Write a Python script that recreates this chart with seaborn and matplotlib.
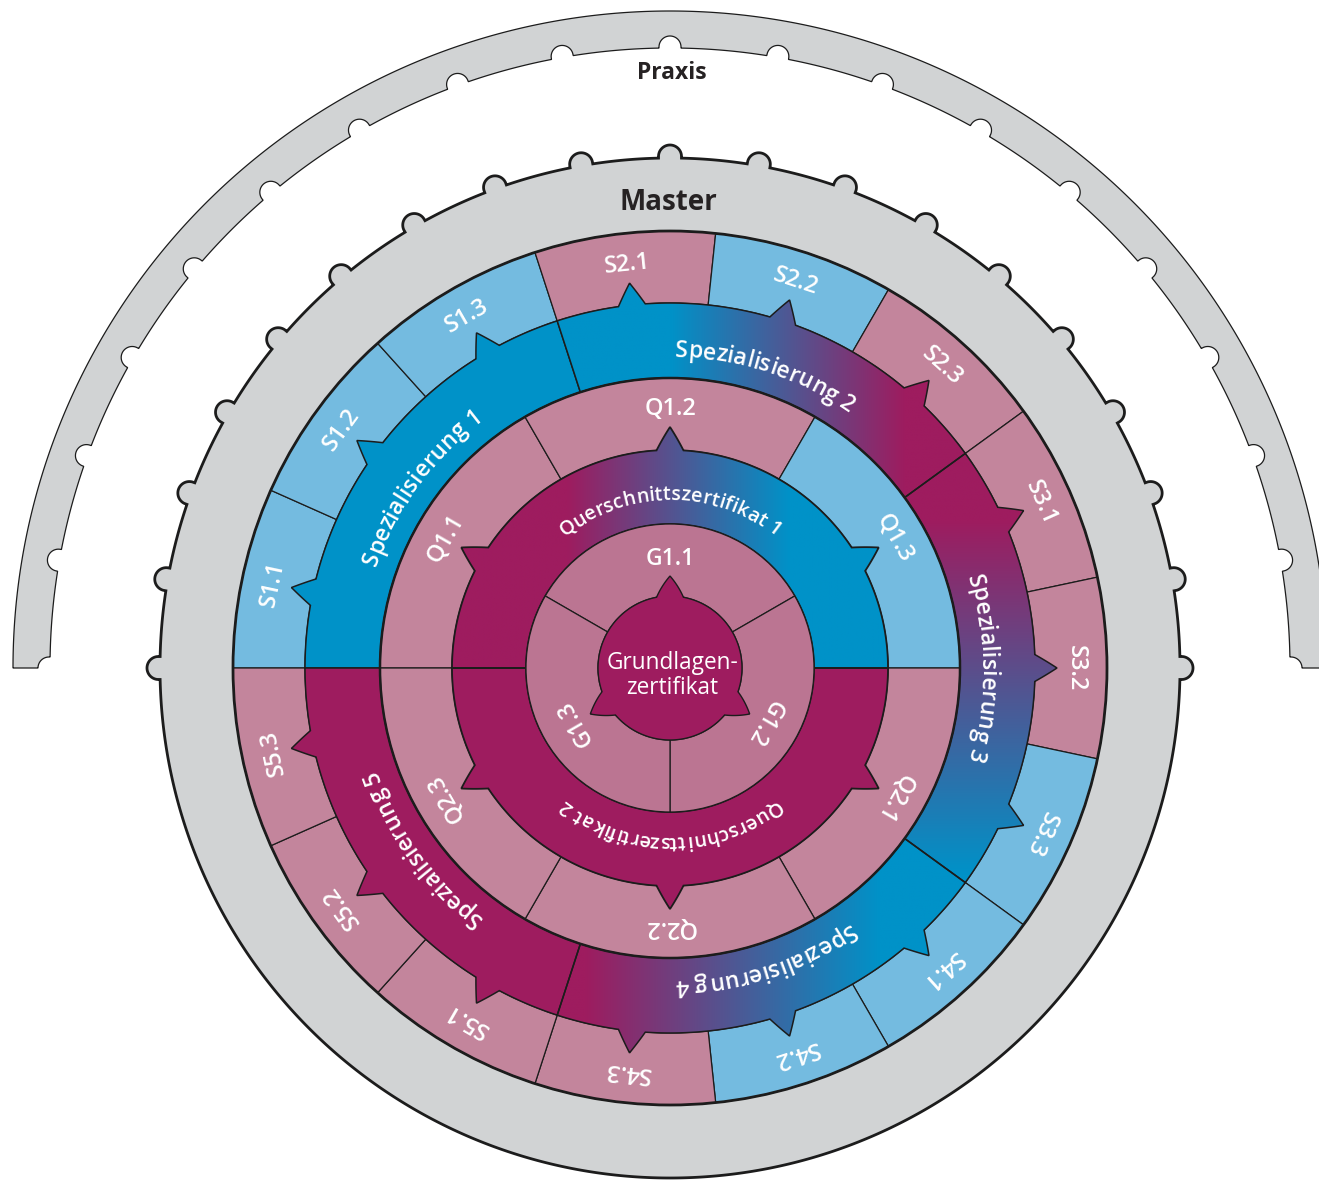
import numpy as np
import matplotlib
matplotlib.use("Agg")
import matplotlib.pyplot as plt
import seaborn as sns
from matplotlib.patches import Polygon, Wedge, Circle
from matplotlib.font_manager import FontProperties

# ---------------- data ----------------
outer_labels = ["Praxis", "Master"]
center_label = "Grundlagen-\nzertifikat"
g_labels = ["G1.1", "G1.2", "G1.3"]
quer_labels = ["Querschnittszertifikat 1", "Querschnittszertifikat 2"]
quer_fills = ["grad_q1", "mag"]
q_labels = ["Q1.1", "Q1.2", "Q1.3", "Q2.1", "Q2.2", "Q2.3"]
q_kinds = ["pink", "pink", "light", "pink", "pink", "pink"]
spez_labels = ["Spezialisierung 1", "Spezialisierung 2", "Spezialisierung 3",
               "Spezialisierung 4", "Spezialisierung 5"]
spez_fills = ["blue", "grad_s2", "grad_s3", "grad_s4", "mag"]
s_labels = ["S1.1", "S1.2", "S1.3", "S2.1", "S2.2", "S2.3", "S3.1", "S3.2", "S3.3",
            "S4.1", "S4.2", "S4.3", "S5.1", "S5.2", "S5.3"]
s_kinds = ["light", "light", "light", "pink", "light", "pink", "pink", "pink", "light",
           "light", "light", "pink", "pink", "pink", "pink"]

# ---------------- style ----------------
sns.set_theme(style="white")
plt.rcParams["font.family"] = ["Open Sans", "DejaVu Sans"]

W, H = 1319, 1184
CX, CY = 670, H - 668
MAG = "#9e1c5f"
BLUE = "#0092c8"
LIGHT = "#74bbe0"
PINK = "#c3859c"
GPINK = "#bb7592"
GRAY = "#d1d3d4"
EDGE = "#1c1c1c"
TXT = "#262223"
COLORS = {"mag": MAG, "blue": BLUE, "light": LIGHT, "pink": PINK, "gpink": GPINK}
# gradients: axis, start coord, end coord (data coords), start colour, end colour
GRADS = {
    "grad_q1": ("x", 567, 790, MAG, BLUE),
    "grad_s2": ("x", 670, 905, BLUE, MAG),
    "grad_s3": ("y", H - 520, H - 875, MAG, BLUE),
    "grad_s4": ("x", 585, 880, MAG, BLUE),
}

fig = plt.figure(figsize=(W / 100, H / 100), dpi=100)
ax = fig.add_axes([0, 0, 1, 1])
ax.set_xlim(0, W)
ax.set_ylim(0, H)
ax.axis("off")
renderer = fig.canvas.get_renderer()


def pol(r, th_deg):
    t = np.radians(th_deg)
    return np.column_stack([CX + r * np.cos(t), CY + r * np.sin(t)])


def bumpy(th_deg, R, Rc, rn, centers):
    r = np.full_like(th_deg, R, dtype=float)
    for c in centers:
        a = np.radians((th_deg - c + 180) % 360 - 180)
        s2 = (Rc * np.sin(a)) ** 2
        ok = (s2 <= rn ** 2) & (np.cos(a) > 0)
        ro = np.where(ok, Rc * np.cos(a) + np.sqrt(np.clip(rn ** 2 - s2, 0, None)), 0)
        r = np.maximum(r, ro)
    return r


def tabbed(r_in, r_out, th1, th2, tabs, tab_h, tab_hw_px):
    hw = np.degrees(tab_hw_px / r_out)
    lo, hi = min(th1, th2), max(th1, th2)
    th = np.linspace(lo, hi, int((hi - lo) * 20) + 1)
    extra = []
    for c in tabs:
        extra += [c - hw, c, c + hw]
    th = np.unique(np.concatenate([th, extra]))
    th = th[(th >= lo) & (th <= hi)]
    r = np.full_like(th, r_out, dtype=float)
    for c in tabs:
        r = np.maximum(r, r_out + tab_h * np.clip(1 - np.abs(th - c) / hw, 0, None))
    outer = pol(r, th)
    if r_in <= 0:
        return outer
    thi = np.linspace(hi, lo, int((hi - lo) * 4) + 2)
    return np.vstack([outer, pol(np.full_like(thi, r_in), thi)])


def fill_shape(xy, fill, z, lw):
    if fill in COLORS:
        ax.add_patch(Polygon(xy, closed=True, fc=COLORS[fill], ec=EDGE, lw=lw, zorder=z))
        return
    axis, a, b, c0, c1 = GRADS[fill]
    clip = Polygon(xy, closed=True, fc="none", ec="none", zorder=z)
    ax.add_patch(clip)
    xmin, ymin = xy.min(axis=0)
    xmax, ymax = xy.max(axis=0)
    if axis == "x":
        co = np.linspace(xmin, xmax, 800)
        img = np.clip((co - a) / (b - a), 0, 1)[None, :]
    else:
        co = np.linspace(ymin, ymax, 800)
        img = np.clip((co - a) / (b - a), 0, 1)[:, None]
    cmap = sns.blend_palette([c0, c1], n_colors=256, as_cmap=True)
    im = ax.imshow(img, extent=[xmin, xmax, ymin, ymax], origin="lower", cmap=cmap,
                   vmin=0, vmax=1, aspect="auto", interpolation="bilinear", zorder=z)
    im.set_clip_path(clip)
    ax.add_patch(Polygon(xy, closed=True, fc="none", ec=EDGE, lw=lw, zorder=z + 0.1))


def text_w(s, prop):
    return renderer.get_text_width_height_descent(s, prop, ismath=False)[0]


def arc_text(s, r_base, th_c, size, weight="semibold", color="white", z=20):
    prop = FontProperties(family=["Open Sans", "DejaVu Sans"], weight=weight, size=size)
    total = text_w(s, prop)
    for i, ch in enumerate(s):
        if ch == " ":
            continue
        right = text_w(s[:i + 1], prop)
        wc = text_w(ch, prop)
        cpos = right - wc / 2 - total / 2
        th = th_c - np.degrees(cpos / r_base)
        x, y = pol(r_base, np.array([th]))[0]
        ax.text(x, y, ch, rotation=th - 90, rotation_mode="anchor", ha="center",
                va="baseline", fontproperties=prop, color=color, zorder=z)


def ring_label(s, r, th, size, weight="semibold"):
    x, y = pol(r, np.array([th]))[0]
    ax.text(x, y, s, rotation=th - 90, rotation_mode="anchor", ha="center", va="center",
            fontsize=size, fontweight=weight, color="white", zorder=20)


# ---------------- Praxis arc ----------------
step10 = np.arange(0, 181, 10)
tho = np.linspace(0, 180, 3601)
thi = np.linspace(180, 0, 18001)
prax = np.vstack([pol(np.full_like(tho, 657.0), tho),
                  pol(bumpy(thi, 620, 621, 11, step10), thi)])
ax.add_patch(Polygon(prax, closed=True, fc=GRAY, ec=EDGE, lw=0.9, zorder=1))
ax.text(CX + 2, H - 73, outer_labels[0], ha="center", va="center", fontsize=16.5,
        fontweight="bold", color=TXT, zorder=20)

# ---------------- Master ring ----------------
thm = np.linspace(0, 360, 36001)
mast = pol(bumpy(thm, 510, 511.5, 11.5, step10), thm)
ax.add_patch(Polygon(mast, closed=True, fc=GRAY, ec=EDGE, lw=2.0, zorder=2))
ax.text(CX - 2, H - 203, outer_labels[1], ha="center", va="center", fontsize=20,
        fontweight="bold", color=TXT, zorder=20)

# ---------------- S ring ----------------
R_S_IN, R_S_OUT = 365, 437
s_centers = [168 - 24 * i for i in range(len(s_labels))]
for lab, kind, c in zip(s_labels, s_kinds, s_centers):
    ax.add_patch(Wedge((CX, CY), R_S_OUT, c - 12, c + 12, width=R_S_OUT - R_S_IN,
                       fc=COLORS[kind], ec=EDGE, lw=0.9, zorder=3))
    ring_label(lab, 406, c, 17)
ax.add_patch(Circle((CX, CY), R_S_OUT, fc="none", ec=EDGE, lw=2.0, zorder=4))

# ---------------- Spezialisierung band ----------------
R_P_IN, R_P_OUT = 290, 365
for k, (lab, fill) in enumerate(zip(spez_labels, spez_fills)):
    th_hi = 180 - 72 * k
    th_lo = th_hi - 72
    tabs = s_centers[3 * k:3 * k + 3]
    xy = tabbed(R_P_IN, R_P_OUT, th_lo, th_hi, tabs, 22, 13.5)
    fill_shape(xy, fill, 5, 1.1)
    arc_text(lab, 311, th_hi - 36, 16.5)

# ---------------- Q ring ----------------
R_Q_IN, R_Q_OUT = 218, 290
q_centers = [150 - 60 * i for i in range(len(q_labels))]
for lab, kind, c in zip(q_labels, q_kinds, q_centers):
    ax.add_patch(Wedge((CX, CY), R_Q_OUT, c - 30, c + 30, width=R_Q_OUT - R_Q_IN,
                       fc=COLORS[kind], ec=EDGE, lw=0.9, zorder=6))
    ring_label(lab, 259, c, 17)
ax.add_patch(Circle((CX, CY), R_Q_OUT, fc="none", ec=EDGE, lw=1.8, zorder=6.5))

# ---------------- Querschnitt band ----------------
R_B_IN, R_B_OUT = 144, 218
for k, (lab, fill) in enumerate(zip(quer_labels, quer_fills)):
    th_hi = 180 - 180 * k
    th_lo = th_hi - 180
    tabs = q_centers[3 * k:3 * k + 3]
    xy = tabbed(R_B_IN, R_B_OUT, th_lo, th_hi, tabs, 23, 13.5)
    fill_shape(xy, fill, 7, 1.3)
    arc_text(lab, 168, th_hi - 90, 14.3)

# ---------------- G ring ----------------
R_G_IN, R_G_OUT = 72, 144
g_centers = [90 - 120 * i for i in range(len(g_labels))]
for lab, c in zip(g_labels, g_centers):
    ax.add_patch(Wedge((CX, CY), R_G_OUT, c - 60, c + 60, width=R_G_OUT - R_G_IN,
                       fc=GPINK, ec=EDGE, lw=0.9, zorder=8))
    ring_label(lab, 109, c, 16.5)

# ---------------- centre ----------------
blob = tabbed(0, 72, -30, 330, [90, 210, -30, 330], 20, 13.5)
ax.add_patch(Polygon(blob, closed=True, fc=MAG, ec=EDGE, lw=1.0, zorder=9))
ax.text(CX + 2, H - 675.5, center_label, ha="center", va="center", fontsize=16.3,
        color="white", linespacing=1.1, zorder=20)

fig.savefig("out.png", dpi=100)
